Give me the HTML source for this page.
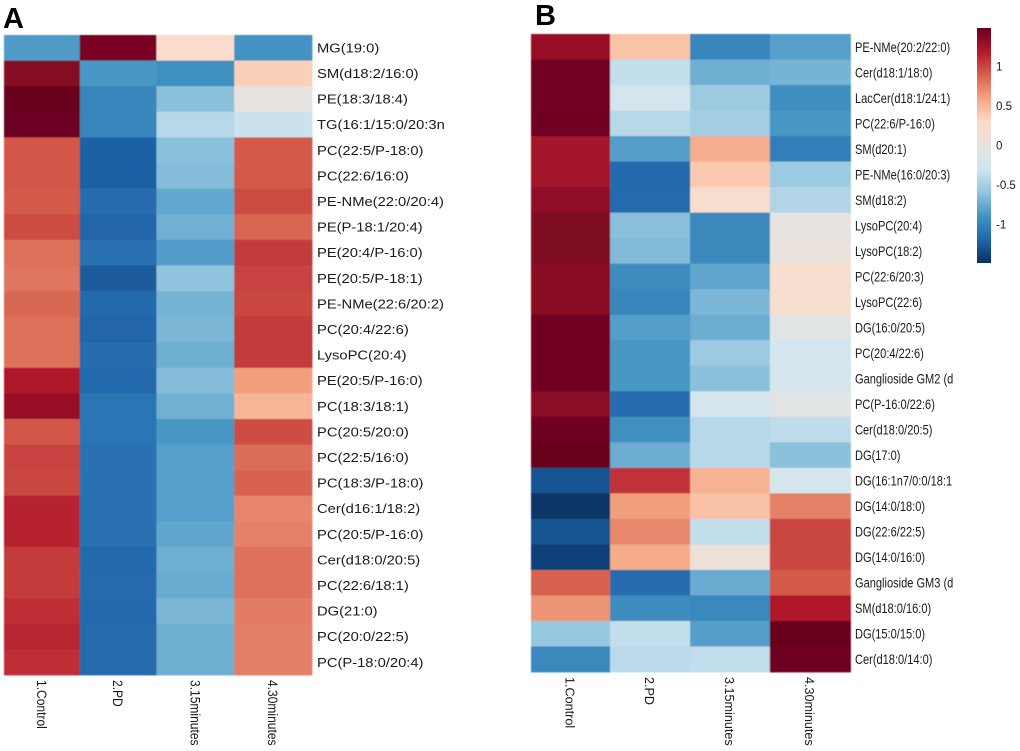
<!DOCTYPE html>
<html>
<head>
<meta charset="utf-8">
<title>Lipid heatmaps A and B</title>
<style>
html,body{margin:0;padding:0;background:#fff;width:1020px;height:751px;overflow:hidden}
svg{display:block;font-family:"Liberation Sans",sans-serif}
</style>
</head>
<body>
<svg id="chart" xmlns="http://www.w3.org/2000/svg" width="1020" height="751" viewBox="0 0 1020 751">
  <defs>
    <linearGradient id="cbar-gradient" x1="0" y1="0" x2="0" y2="1"></linearGradient>
    <filter id="soft" x="-2%" y="-2%" width="104%" height="104%"><feGaussianBlur stdDeviation="0.45"/></filter>
  </defs>
  <text x="3" y="28" font-size="29" font-weight="bold" fill="#000">A</text>
  <text x="535" y="25" font-size="29" font-weight="bold" fill="#000">B</text>
  <g id="panel-a"></g>
  <g id="panel-b"></g>
  <g id="colorbar"></g>
</svg>
<script>
const groups = ['1.Control', '2.PD', '3.15minutes', '4.30minutes'];

const lipidsA = ['MG(19:0)','SM(d18:2/16:0)','PE(18:3/18:4)','TG(16:1/15:0/20:3n','PC(22:5/P-18:0)','PC(22:6/16:0)','PE-NMe(22:0/20:4)','PE(P-18:1/20:4)','PE(20:4/P-16:0)','PE(20:5/P-18:1)','PE-NMe(22:6/20:2)','PC(20:4/22:6)','LysoPC(20:4)','PE(20:5/P-16:0)','PC(18:3/18:1)','PC(20:5/20:0)','PC(22:5/16:0)','PC(18:3/P-18:0)','Cer(d16:1/18:2)','PC(20:5/P-16:0)','Cer(d18:0/20:5)','PC(22:6/18:1)','DG(21:0)','PC(20:0/22:5)','PC(P-18:0/20:4)'];
const controlA = [-0.85,1.37,1.49,1.47,0.93,0.93,0.92,0.98,0.83,0.80,0.86,0.82,0.82,1.20,1.30,0.93,1.02,1.00,1.15,1.16,1.05,1.05,1.10,1.14,1.10];
const pdA = [1.42,-0.87,-0.98,-0.98,-1.22,-1.22,-1.15,-1.20,-1.12,-1.25,-1.17,-1.20,-1.15,-1.17,-1.10,-1.10,-1.12,-1.12,-1.12,-1.12,-1.17,-1.16,-1.17,-1.16,-1.16];
const min15A = [0.25,-0.92,-0.62,-0.42,-0.62,-0.65,-0.77,-0.72,-0.84,-0.60,-0.70,-0.68,-0.73,-0.65,-0.72,-0.87,-0.82,-0.82,-0.82,-0.78,-0.73,-0.75,-0.68,-0.73,-0.73];
const min30A = [-0.90,0.36,0.00,-0.33,0.92,0.92,0.98,0.87,1.05,1.02,1.00,1.05,1.05,0.62,0.50,0.97,0.84,0.88,0.73,0.75,0.82,0.82,0.77,0.76,0.76];

const lipidsB = ['PE-NMe(20:2/22:0)','Cer(d18:1/18:0)','LacCer(d18:1/24:1)','PC(22:6/P-16:0)','SM(d20:1)','PE-NMe(16:0/20:3)','SM(d18:2)','LysoPC(20:4)','LysoPC(18:2)','PC(22:6/20:3)','LysoPC(22:6)','DG(16:0/20:5)','PC(20:4/22:6)','Ganglioside GM2 (d','PC(P-16:0/22:6)','Cer(d18:0/20:5)','DG(17:0)','DG(16:1n7/0:0/18:1','DG(14:0/18:0)','DG(22:6/22:5)','DG(14:0/16:0)','Ganglioside GM3 (d','SM(d18:0/16:0)','DG(15:0/15:0)','Cer(d18:0/14:0)'];
const controlB = [1.30,1.45,1.45,1.46,1.25,1.25,1.33,1.40,1.40,1.36,1.36,1.46,1.46,1.46,1.35,1.46,1.49,-1.30,-1.47,-1.30,-1.40,0.88,0.67,-0.58,-0.97];
const pdB = [0.43,-0.37,-0.25,-0.42,-0.83,-1.17,-1.16,-0.63,-0.66,-0.95,-0.98,-0.83,-0.87,-0.87,-1.15,-0.92,-0.74,1.08,0.62,0.72,0.56,-1.15,-0.95,-0.37,-0.40];
const min15B = [-0.98,-0.73,-0.55,-0.52,0.55,0.40,0.22,-0.97,-0.97,-0.78,-0.68,-0.74,-0.55,-0.62,-0.25,-0.42,-0.42,0.52,0.44,-0.37,0.08,-0.75,-0.97,-0.83,-0.37];
const min30B = [-0.82,-0.70,-0.93,-0.87,-1.03,-0.55,-0.45,0.00,0.05,0.22,0.22,-0.08,-0.27,-0.22,-0.08,-0.38,-0.62,-0.25,0.75,1.00,1.00,0.92,1.20,1.49,1.46];

const legendTicks = [1, 0.5, 0, -0.5, -1];
const legendLabels = ['1', '0.5', '0', '-0.5', '-1'];
const palette = ['#053061','#2166ac','#4393c3','#92c5de','#d1e5f0','#e6e3e0','#fddbc7','#f4a582','#d6604d','#b2182b','#67001f'];
const valueLimit = 1.49;

const SVG_NS = 'http://www.w3.org/2000/svg';

function hexToRgb(h) {
  return [parseInt(h.slice(1,3),16), parseInt(h.slice(3,5),16), parseInt(h.slice(5,7),16)];
}
function colorScale(v) {
  const t = Math.max(0, Math.min(1, (v + valueLimit) / (2 * valueLimit))) * (palette.length - 1);
  const i = Math.min(palette.length - 2, Math.floor(t));
  const f = t - i;
  const a = hexToRgb(palette[i]);
  const b = hexToRgb(palette[i + 1]);
  return 'rgb(' + a.map(function (c, k) { return Math.round(c + (b[k] - c) * f); }).join(',') + ')';
}

function drawPanel(target, key, labels, series, box, rowFont) {
  const totalWeight = box.colWeights.reduce(function (s, w) { return s + w; }, 0);
  const xAxis = function (i) {
    let sum = 0;
    for (let k = 0; k < i; k++) { sum += box.colWeights[k]; }
    return box.left + sum / totalWeight * (box.right - box.left);
  };
  const yAxis = function (j) { return box.top + j * (box.bottom - box.top) / labels.length; };
  const cells = document.createElementNS(SVG_NS, 'g');
  
  
  cells.setAttribute('filter', 'url(#soft)');
  target.appendChild(cells);

  series.forEach(function (values, i) {
    values.forEach(function (v, j) {
      const rect = document.createElementNS(SVG_NS, 'rect');
      
      
      rect.setAttribute('x', xAxis(i));
      rect.setAttribute('y', yAxis(j));
      rect.setAttribute('width', xAxis(i + 1) - xAxis(i) + 0.4);
      rect.setAttribute('height', yAxis(j + 1) - yAxis(j) + 0.4);
      rect.setAttribute('fill', colorScale(v));
      cells.appendChild(rect);
    });
  });

  labels.forEach(function (name, j) {
    const t = document.createElementNS(SVG_NS, 'text');
    
    
    t.setAttribute('transform', 'translate(' + rowFont.x + ',' + ((yAxis(j) + yAxis(j + 1)) / 2 + rowFont.dy) + ') scale(' + rowFont.scale + ',1)');
    t.setAttribute('font-size', rowFont.size);
    t.setAttribute('fill', '#1a1a1a');
    t.textContent = name;
    target.appendChild(t);
  });

  groups.forEach(function (name, i) {
    const t = document.createElementNS(SVG_NS, 'text');
    
    
    t.setAttribute('transform', 'translate(' + ((xAxis(i) + xAxis(i + 1)) / 2 - rowFont.colDx) + ',' + (box.bottom + 5) + ') rotate(90) scale(' + rowFont.colScale + ',1)');
    t.setAttribute('font-size', rowFont.colSize);
    t.setAttribute('fill', '#1a1a1a');
    t.textContent = name;
    target.appendChild(t);
  });
}

drawPanel(document.getElementById('panel-a'), 'panel-a', lipidsA, [controlA, pdA, min15A, min30A],
  {left: 4, right: 312, top: 35, bottom: 675, colWeights: [75.7, 76.6, 77.7, 77.7]},
  {x: 317, dy: 4.6, size: 12.5, scale: 1.18, colSize: 14, colScale: 0.86, colDx: 5});
drawPanel(document.getElementById('panel-b'), 'panel-b', lipidsB, [controlB, pdB, min15B, min30B],
  {left: 531, right: 850.5, top: 34, bottom: 672, colWeights: [79, 80, 79.7, 80.6]},
  {x: 855, dy: 5, size: 13.5, scale: 0.82, colSize: 13, colScale: 0.97, colDx: 5});

// Colour legend
const legendBox = {left: 977, right: 991, top: 28, bottom: 263};
const legendY = function (v) { return legendBox.top + (valueLimit - v) / (2 * valueLimit) * (legendBox.bottom - legendBox.top); };
const gradient = document.getElementById('cbar-gradient');
palette.forEach(function (c, i) {
  const stop = document.createElementNS(SVG_NS, 'stop');
  stop.setAttribute('offset', (1 - i / (palette.length - 1)));
  stop.setAttribute('stop-color', c);
  gradient.insertBefore(stop, gradient.firstChild);
});
const legendGroup = document.getElementById('colorbar');
const legendBar = document.createElementNS(SVG_NS, 'rect');


legendBar.setAttribute('x', legendBox.left);
legendBar.setAttribute('y', legendBox.top);
legendBar.setAttribute('width', legendBox.right - legendBox.left);
legendBar.setAttribute('height', legendBox.bottom - legendBox.top);
legendBar.setAttribute('fill', 'url(#cbar-gradient)');
legendGroup.appendChild(legendBar);
legendTicks.forEach(function (v, i) {
  const t = document.createElementNS(SVG_NS, 'text');
  
  
  t.setAttribute('x', 996);
  t.setAttribute('y', legendY(v) + 4);
  t.setAttribute('font-size', '11.5');
  t.setAttribute('fill', '#1a1a1a');
  t.textContent = legendLabels[i];
  legendGroup.appendChild(t);
});
</script>
</body>
</html>
